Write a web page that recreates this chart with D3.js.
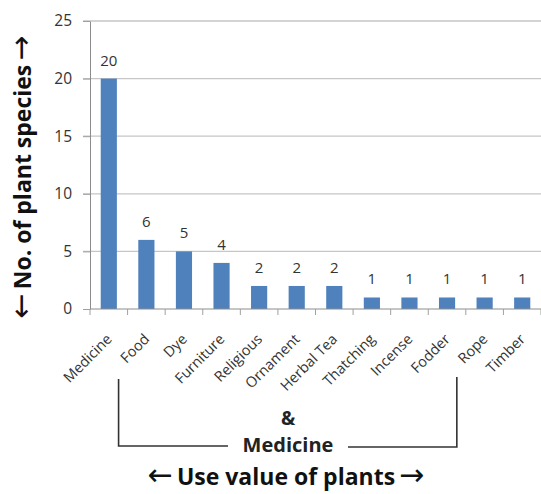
<!DOCTYPE html>
<html>
<head>
<meta charset="utf-8">
<script src="https://cdn.jsdelivr.net/npm/d3@7"></script>
<style>
  body { margin: 0; background: #fff; }
  text { font-family: "Open Sans", "Liberation Sans", sans-serif; }
  .arrow { font-family: "DejaVu Sans", sans-serif; font-weight: normal; }
</style>
</head>
<body>
<svg id="chart" width="541" height="494"></svg>
<script>
const categories = ['Medicine', 'Food', 'Dye', 'Furniture', 'Religious', 'Ornament',
  'Herbal Tea', 'Thatching', 'Incense', 'Fodder', 'Rope', 'Timber']
const species = [20, 6, 5, 4, 2, 2, 2, 1, 1, 1, 1, 1]
const yTicks = [0, 5, 10, 15, 20, 25]

const svg = d3.select('#chart')
const plotLeft = 90
const plotRight = 541
const plotTop = 21
const plotBottom = 309

const x = d3.scaleBand().domain(categories).range([plotLeft, plotRight]).paddingInner(0.57).paddingOuter(0.285)
const xTicks = d3.scaleBand().domain(categories).range([plotLeft, plotRight])
const y = d3.scaleLinear().domain([0, 25]).range([plotBottom, plotTop])

// gridlines
svg.append('g')
  .selectAll('line')
  .data(yTicks.filter(d => d > 0))
  .join('line')
  .attr('x1', plotLeft - 7).attr('x2', plotRight)
  .attr('y1', d => y(d)).attr('y2', d => y(d))
  .attr('stroke', '#c6c6c6').attr('stroke-width', 1.3)

// y axis
const yAxis = svg.append('g')
  .attr('transform', `translate(${plotLeft},0)`)
  .call(d3.axisLeft(y).tickValues(yTicks).tickSize(7).tickSizeOuter(0).tickPadding(11))
yAxis.select('.domain').attr('stroke', '#8c8c8c')
yAxis.selectAll('.tick line').attr('stroke', '#a0a0a0')
yAxis.selectAll('.tick text').attr('font-size', 15.5).attr('fill', '#333')

// bars
svg.append('g')
  .selectAll('rect')
  .data(categories)
  .join('rect')
  .attr('x', d => x(d))
  .attr('width', x.bandwidth())
  .attr('y', (d, i) => y(species[i]))
  .attr('height', (d, i) => plotBottom - y(species[i]))
  .attr('fill', '#4f81bd')

// value labels
svg.append('g')
  .selectAll('text')
  .data(categories)
  .join('text')
  .attr('x', d => x(d) + x.bandwidth() / 2)
  .attr('y', (d, i) => y(species[i]) - 13)
  .attr('text-anchor', 'middle')
  .attr('font-size', 15)
  .attr('fill', '#333')
  .text((d, i) => species[i])

// x axis with ticks at band edges
const xAxis = svg.append('g').attr('transform', `translate(0,${plotBottom})`)
xAxis.append('line')
  .attr('x1', plotLeft).attr('x2', plotRight)
  .attr('stroke', '#8c8c8c')
xAxis.selectAll('line.tk')
  .data(categories.concat(['end']))
  .join('line')
  .attr('class', 'tk')
  .attr('x1', (d, i) => plotLeft + i * xTicks.bandwidth())
  .attr('x2', (d, i) => plotLeft + i * xTicks.bandwidth())
  .attr('y1', 0).attr('y2', 6)
  .attr('stroke', '#a0a0a0')
xAxis.selectAll('text')
  .data(categories)
  .join('text')
  .attr('transform', d => `translate(${xTicks(d) + xTicks.bandwidth() / 2 + 4},31) rotate(-45)`)
  .attr('text-anchor', 'end')
  .attr('font-size', 14.5)
  .attr('fill', '#333')
  .text(d => d)

// bracket: Food .. Rope & Medicine
const bx1 = xTicks('Food') - 9
const bx2 = xTicks('Rope') - 9
svg.append('path')
  .attr('d', `M${bx1},379 V446 H228`)
  .attr('fill', 'none').attr('stroke', '#333').attr('stroke-width', 1.6)
svg.append('path')
  .attr('d', `M348,447 H${bx2} V377`)
  .attr('fill', 'none').attr('stroke', '#333').attr('stroke-width', 1.6)
svg.append('text')
  .attr('x', 288).attr('y', 425)
  .attr('text-anchor', 'middle')
  .attr('font-size', 19).attr('font-weight', 'bold').attr('fill', '#222')
  .text('&')
svg.append('text')
  .attr('x', 288).attr('y', 452)
  .attr('text-anchor', 'middle')
  .attr('font-size', 20).attr('font-weight', 'bold').attr('fill', '#222')
  .text('Medicine')

// axis titles
function arrowTitle (sel, label) {
  sel.append('tspan').attr('class', 'arrow').attr('font-size', 30).attr('dx', 0).text('\u2190')
  sel.append('tspan').attr('dx', 4).text(label)
  sel.append('tspan').attr('class', 'arrow').attr('font-size', 30).attr('dx', 4).text('\u2192')
}
svg.append('text')
  .attr('x', 286).attr('y', 485)
  .attr('text-anchor', 'middle')
  .attr('font-size', 23).attr('font-weight', 'bold').attr('fill', '#111')
  .call(arrowTitle, 'Use value of plants')
svg.append('text')
  .attr('transform', 'translate(31,177) rotate(-90)')
  .attr('text-anchor', 'middle')
  .attr('font-size', 23).attr('font-weight', 'bold').attr('fill', '#111')
  .call(arrowTitle, 'No. of plant species')
</script>
</body>
</html>
